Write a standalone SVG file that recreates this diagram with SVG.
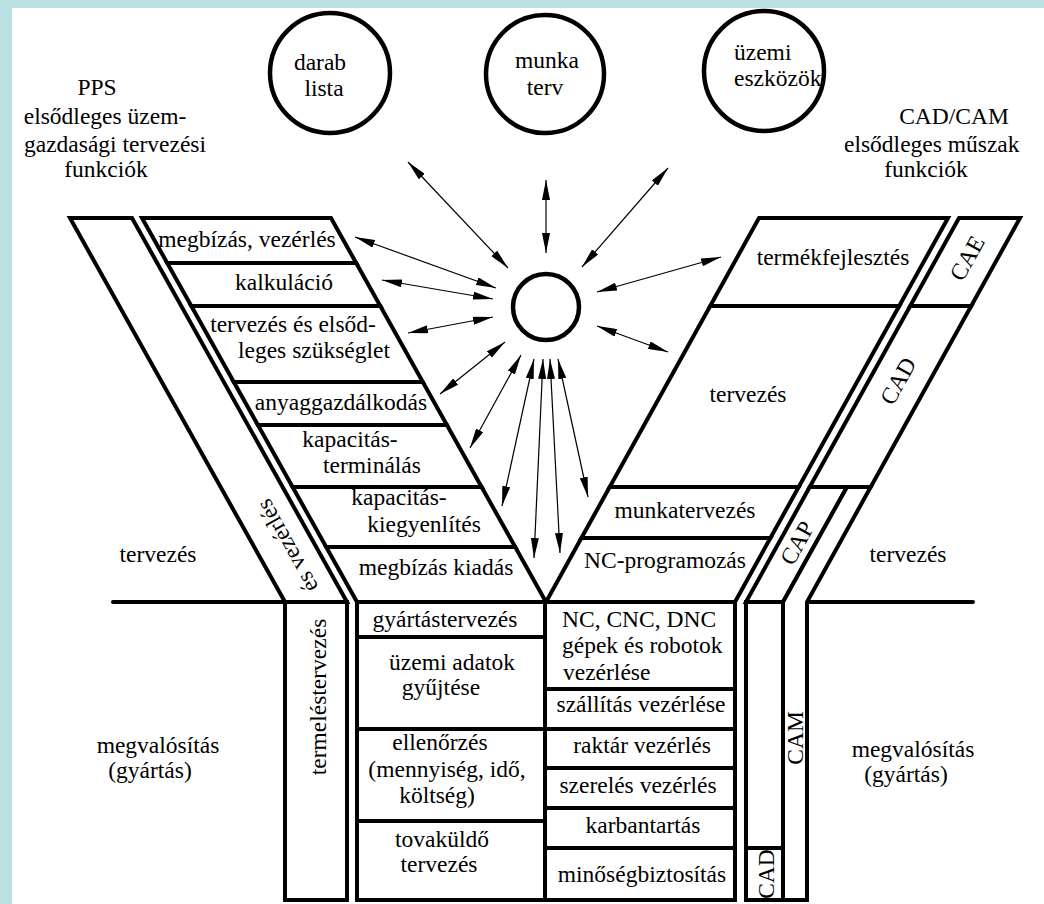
<svg xmlns="http://www.w3.org/2000/svg" width="1044" height="904" viewBox="0 0 1044 904" font-family="'Liberation Serif', 'Times New Roman', 'DejaVu Serif', serif">
<style>
.bx{fill:#fff;stroke:#000;stroke-width:4;stroke-linejoin:miter}
.ln{fill:none;stroke:#000;stroke-width:4;stroke-linecap:round}
.cr{fill:#fff;stroke:#000;stroke-width:4.5}
text{font-family:'Liberation Serif','Times New Roman','DejaVu Serif',serif;font-size:23.5px;fill:#000}
.c{text-anchor:middle}
.ar{stroke:#000;stroke-width:1.2;fill:none;marker-start:url(#ah);marker-end:url(#ah)}
</style>
<defs>
<marker id="ah" viewBox="0 0 20 8" refX="20" refY="4" markerWidth="20" markerHeight="8" markerUnits="userSpaceOnUse" orient="auto-start-reverse"><path d="M0,0 L20,4 L0,8 Z" fill="#000"/></marker>
</defs>
<rect x="0" y="0" width="1044" height="904" fill="#badfe3"/>
<rect x="12" y="8" width="1032" height="896" fill="#fff"/>

<g id="labels">
<text class="c" x="97" y="95">PPS</text>
<text class="c" x="105" y="124">elsődleges üzem-</text>
<text class="c" x="115" y="152">gazdasági tervezési</text>
<text class="c" x="106" y="177">funkciók</text>
<text class="c" x="954" y="124">CAD/CAM</text>
<text x="844" y="152">elsődleges műszak</text>
<text class="c" x="926" y="177">funkciók</text>
<text class="c" x="158" y="562">tervezés</text>
<text class="c" x="908" y="562">tervezés</text>
<text class="c" x="158" y="753">megvalósítás</text>
<text class="c" x="150" y="778">(gyártás)</text>
<text class="c" x="913" y="757">megvalósítás</text>
<text class="c" x="906" y="782">(gyártás)</text>
</g>

<g id="n-darab"><circle class="cr" cx="330" cy="73" r="60"/><text class="c" x="320" y="70">darab</text><text class="c" x="324" y="96">lista</text></g>
<g id="n-munka"><circle class="cr" cx="545" cy="74" r="59"/><text class="c" x="547" y="68">munka</text><text class="c" x="545" y="95">terv</text></g>
<g id="n-uzemi"><circle class="cr" cx="764" cy="71" r="60"/><text x="734" y="60">üzemi</text><text x="734" y="86">eszközök</text></g>
<g id="n-sun"><circle class="cr" cx="546" cy="307" r="33"/></g>

<g id="axis">
<line class="ln" x1="113" y1="602" x2="285" y2="602"/>
<line class="ln" x1="807" y1="602" x2="973" y2="602"/>
</g>

<g id="n-es-vezerles"><polygon class="bx" points="70,218 132,218 347,602 285,602"/><text class="c" transform="translate(287,546) rotate(-119)" dy="8">és vezérlés</text></g>
<g id="n-termelestervezes"><rect class="bx" x="285" y="602" width="62" height="298"/><text class="c" transform="translate(318,697) rotate(-90)" dy="8">termeléstervezés</text></g>

<g id="n-megbizas-vezerles"><polygon class="bx" points="142,218 331,218 356.2,263 167.2,263"/><text class="c" x="247" y="247">megbízás, vezérlés</text></g>
<g id="n-kalkulacio"><polygon class="bx" points="167.2,263 356.2,263 380.3,306 191.3,306"/><text class="c" x="284" y="290">kalkuláció</text></g>
<g id="n-tervezes-elsodleges"><polygon class="bx" points="191.3,306 380.3,306 422.8,382 233.8,382"/><text class="c" x="293" y="332">tervezés és elsőd-</text><text class="c" x="314" y="358">leges szükséglet</text></g>
<g id="n-anyaggazdalkodas"><polygon class="bx" points="233.8,382 422.8,382 446.9,425 257.9,425"/><text class="c" x="341" y="410">anyaggazdálkodás</text></g>
<g id="n-kap-term"><polygon class="bx" points="257.9,425 446.9,425 481.6,487 292.6,487"/><text class="c" x="350" y="447">kapacitás-</text><text class="c" x="372" y="473">terminálás</text></g>
<g id="n-kap-kiegy"><polygon class="bx" points="292.6,487 481.6,487 515.2,547 326.2,547"/><text class="c" x="399" y="505">kapacitás-</text><text class="c" x="424" y="532">kiegyenlítés</text></g>
<g id="n-megbizas-kiadas"><polygon class="bx" points="326.2,547 515.2,547 546,602 357,602"/><text class="c" x="436" y="575">megbízás kiadás</text></g>

<g id="n-termekfejlesztes"><polygon class="bx" points="759,218 948,218 899.2,306 710.2,306"/><text class="c" x="833" y="265">termékfejlesztés</text></g>
<g id="n-tervezes-r"><polygon class="bx" points="710.2,306 899.2,306 798.7,487 609.7,487"/><text class="c" x="748" y="402">tervezés</text></g>
<g id="n-munkatervezes"><polygon class="bx" points="609.7,487 798.7,487 770.4,538 581.4,538"/><text class="c" x="685" y="518">munkatervezés</text></g>
<g id="n-nc-programozas"><polygon class="bx" points="581.4,538 770.4,538 735,602 546,602"/><text class="c" x="665" y="568">NC-programozás</text></g>

<g id="n-cae"><polygon class="bx" points="959,218 1020,218 971.2,306 910.2,306"/><text class="c" transform="translate(967,258) rotate(-61)" dy="8">CAE</text></g>
<g id="n-cad-band"><polygon class="bx" points="910.2,306 971.2,306 870.7,487 809.7,487"/><text class="c" transform="translate(898,381) rotate(-61)" dy="8">CAD</text></g>
<g id="n-cap"><polygon class="bx" points="809.7,487 847,487 783,602 746,602"/><text class="c" transform="translate(797,543) rotate(-61)" dy="8">CAP</text></g>
<g id="n-cam"><polygon class="bx" points="847,487 870.7,487 807,602 807,900 783,900 783,602"/><text class="c" transform="translate(795,738) rotate(-90)" dy="8">CAM</text></g>
<g id="n-cad-col"><rect class="bx" x="746" y="602" width="37" height="246"/></g>
<g id="n-cad-small"><rect class="bx" x="746" y="848" width="37" height="52"/><text class="c" transform="translate(766,874) rotate(-90)" dy="8">CAD</text></g>

<g id="n-gyartastervezes"><rect class="bx" x="357" y="602" width="188" height="35"/><text class="c" x="445" y="627">gyártástervezés</text></g>
<g id="n-uzemi-adatok"><rect class="bx" x="357" y="637" width="188" height="92"/><text class="c" x="452" y="670">üzemi adatok</text><text class="c" x="441" y="695">gyűjtése</text></g>
<g id="n-ellenorzes"><rect class="bx" x="357" y="729" width="188" height="92"/><text class="c" x="440" y="750">ellenőrzés</text><text class="c" x="447" y="777">(mennyiség, idő,</text><text class="c" x="437" y="803">költség)</text></g>
<g id="n-tovakuldo"><rect class="bx" x="357" y="821" width="188" height="79"/><text class="c" x="442" y="847">tovaküldő</text><text class="c" x="439" y="872">tervezés</text></g>

<g id="n-nc-cnc"><rect class="bx" x="545" y="602" width="190" height="87"/><text x="562" y="627">NC, CNC, DNC</text><text x="562" y="653">gépek és robotok</text><text x="563" y="680">vezérlése</text></g>
<g id="n-szallitas"><rect class="bx" x="545" y="689" width="190" height="40"/><text class="c" x="641" y="712">szállítás vezérlése</text></g>
<g id="n-raktar"><rect class="bx" x="545" y="729" width="190" height="39"/><text class="c" x="642" y="753">raktár vezérlés</text></g>
<g id="n-szereles"><rect class="bx" x="545" y="768" width="190" height="40"/><text class="c" x="638" y="793">szerelés vezérlés</text></g>
<g id="n-karbantartas"><rect class="bx" x="545" y="808" width="190" height="40"/><text class="c" x="643" y="833">karbantartás</text></g>
<g id="n-minoseg"><rect class="bx" x="545" y="848" width="190" height="52"/><text class="c" x="642" y="882">minőségbiztosítás</text></g>

<g id="connectors">
<line class="ar" x1="408" y1="162" x2="508" y2="268"/>
<line class="ar" x1="546" y1="180" x2="546" y2="253"/>
<line class="ar" x1="668" y1="168" x2="582" y2="267"/>
<line class="ar" x1="721" y1="257" x2="597" y2="292"/>
<line class="ar" x1="355" y1="237" x2="496" y2="288"/>
<line class="ar" x1="382" y1="280" x2="493" y2="299"/>
<line class="ar" x1="408" y1="333" x2="493" y2="317"/>
<line class="ar" x1="440" y1="394" x2="505" y2="342"/>
<line class="ar" x1="470" y1="448" x2="521" y2="355"/>
<line class="ar" x1="502" y1="506" x2="534" y2="359"/>
<line class="ar" x1="534" y1="558" x2="543" y2="359"/>
<line class="ar" x1="560" y1="553" x2="550" y2="359"/>
<line class="ar" x1="588" y1="497" x2="558" y2="359"/>
<line class="ar" x1="668" y1="352" x2="597" y2="326"/>
</g>
</svg>
